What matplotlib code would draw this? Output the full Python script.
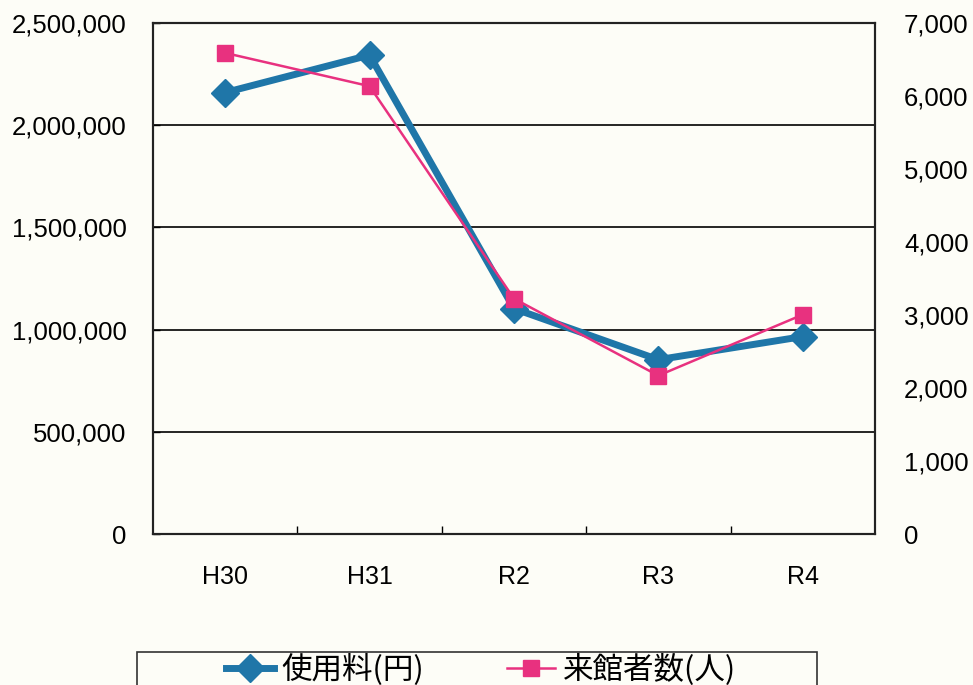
import matplotlib
matplotlib.use("Agg")

import matplotlib.pyplot as plt
from matplotlib.patches import Rectangle
from matplotlib.ticker import FuncFormatter, FixedLocator

plt.rcParams["font.family"] = ["Liberation Sans", "Noto Sans CJK JP", "DejaVu Sans"]

# データ
years = ["H30", "H31", "R2", "R3", "R4"]
fee_yen = [2160000, 2343000, 1103000, 853000, 966000]   # 使用料(円)
visitors = [6590, 6135, 3225, 2170, 3005]                # 来館者数(人)

BG = "#fdfdf7"
BLUE = "#1f76a8"
PINK = "#e8317f"

fig = plt.figure(figsize=(9.73, 6.85), dpi=100, facecolor=BG)
ax = fig.add_axes([0.1572, 0.2204, 0.742, 0.746], facecolor=BG)
ax2 = ax.twinx()

x = list(range(len(years)))
l1, = ax.plot(x, fee_yen, color=BLUE, lw=5, marker="D", ms=14,
              label="使用料(円)", zorder=3)
l2, = ax2.plot(x, visitors, color=PINK, lw=1.8, marker="s", ms=11,
               label="来館者数(人)", zorder=4)

ax.set_xlim(-0.5, len(years) - 0.5)
ax.set_ylim(0, 2500000)
ax2.set_ylim(0, 7000)
ax.set_yticks(range(0, 2500001, 500000))
ax2.set_yticks(range(0, 7001, 1000))
ax.yaxis.set_major_formatter(FuncFormatter(lambda v, p: f"{int(v):,}"))
ax2.yaxis.set_major_formatter(FuncFormatter(lambda v, p: f"{int(v):,}"))

ax.set_xticks(x)
ax.set_xticklabels(years)
ax.xaxis.set_minor_locator(FixedLocator([i + 0.5 for i in x[:-1]]))
ax.tick_params(axis="x", which="major", length=0, pad=22, labelsize=18)
ax.tick_params(axis="x", which="minor", length=6, direction="in", width=1)
ax.tick_params(axis="y", length=5, direction="in", width=1, labelsize=18.5, pad=19)
ax2.tick_params(axis="y", length=0, labelsize=18.5, pad=21)

ax.grid(axis="y", color="black", lw=1.2)
ax.set_axisbelow(True)
for sp in list(ax.spines.values()) + list(ax2.spines.values()):
    sp.set_color("#222222")
    sp.set_linewidth(1.5)

# 凡例（下端で切れている枠）
leg = fig.legend(handles=[l1, l2], loc="center",
                 bbox_to_anchor=(481 / 973, 1 - 670 / 685),
                 ncol=2, frameon=False,
                 prop={"family": ["Noto Sans CJK JP", "DejaVu Sans"], "size": 22},
                 handlelength=1.57, handletextpad=0.25, borderpad=0,
                 columnspacing=2.7)
fig.patches.append(Rectangle((137 / 973, -0.05), (817 - 137) / 973, 0.05 + 1 - 652 / 685,
                             transform=fig.transFigure, facecolor="none",
                             edgecolor="#333333", lw=1.2))

fig.savefig("out.png", dpi=100, facecolor=BG)
